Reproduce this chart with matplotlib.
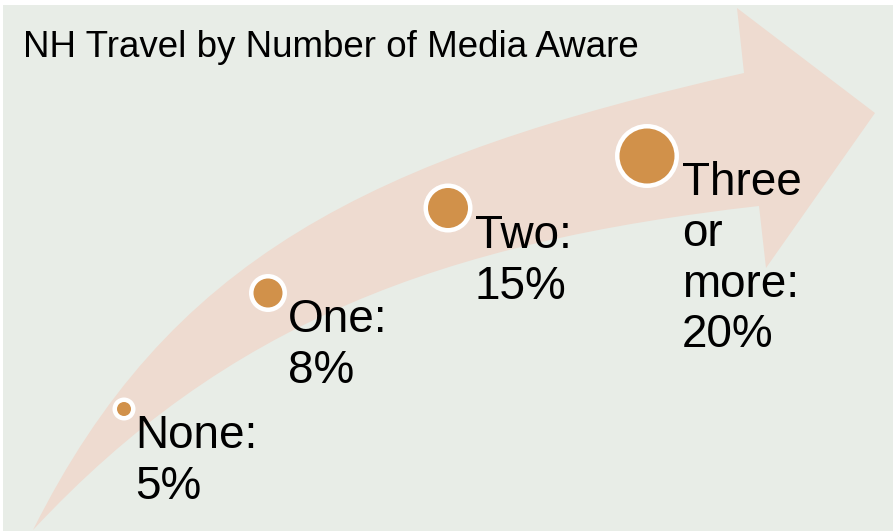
import matplotlib.pyplot as plt
from matplotlib.patches import Circle, PathPatch, Rectangle
from matplotlib.path import Path

# data
categories = ['None', 'One', 'Two', 'Three\nor\nmore']
percents = [5, 8, 15, 20]
title = 'NH Travel by Number of Media Aware'

# layout (pixel coords, y grows downward)
centers = [(124, 409), (268, 293), (448, 208), (647, 156)]
dot_r = [7, 14.5, 20, 27.5]
label_xy = [(135, 448), (288, 332), (475, 248), (682, 195)]  # first-line baselines

bg = '#E8EDE7'
arrow_col = '#EEDBD0'
dot_col = '#D1914A'

W, H = 893, 531
fig = plt.figure(figsize=(W / 100, H / 100), dpi=100)
ax = fig.add_axes([0, 0, 1, 1])
ax.set_xlim(0, W)
ax.set_ylim(H, 0)
ax.axis('off')

# panel
ax.add_patch(Rectangle((3, 5), W - 3, H - 5, color=bg, lw=0))

# curved arrow (tail bottom-left, head top-right)
verts = [(33, 530),
         (168, 260), (367, 158), (744, 73),
         (737, 8), (875, 113), (766, 268), (759, 206),
         (441, 242), (226, 323), (33, 530),
         (33, 530)]
codes = [Path.MOVETO,
         Path.CURVE4, Path.CURVE4, Path.CURVE4,
         Path.LINETO, Path.LINETO, Path.LINETO, Path.LINETO,
         Path.CURVE4, Path.CURVE4, Path.CURVE4,
         Path.CLOSEPOLY]
ax.add_patch(PathPatch(Path(verts, codes), facecolor=arrow_col, lw=0))

# dots and labels
for cat, pct, (cx, cy), r, (lx, ly) in zip(categories, percents, centers, dot_r, label_xy):
    ax.add_patch(Circle((cx, cy), r + 4.5, color='white', lw=0, zorder=3))
    ax.add_patch(Circle((cx, cy), r, color=dot_col, lw=0, zorder=4))
    ax.text(lx, ly - 34, f'{cat}:\n{pct}%', fontsize=33, family='Liberation Sans',
            ha='left', va='top', linespacing=1.2, color='black', zorder=5)

ax.text(23, 57, title, fontsize=26.5, family='Liberation Sans',
        ha='left', va='baseline', color='black')

fig.savefig('out.png', dpi=100, facecolor='white')
